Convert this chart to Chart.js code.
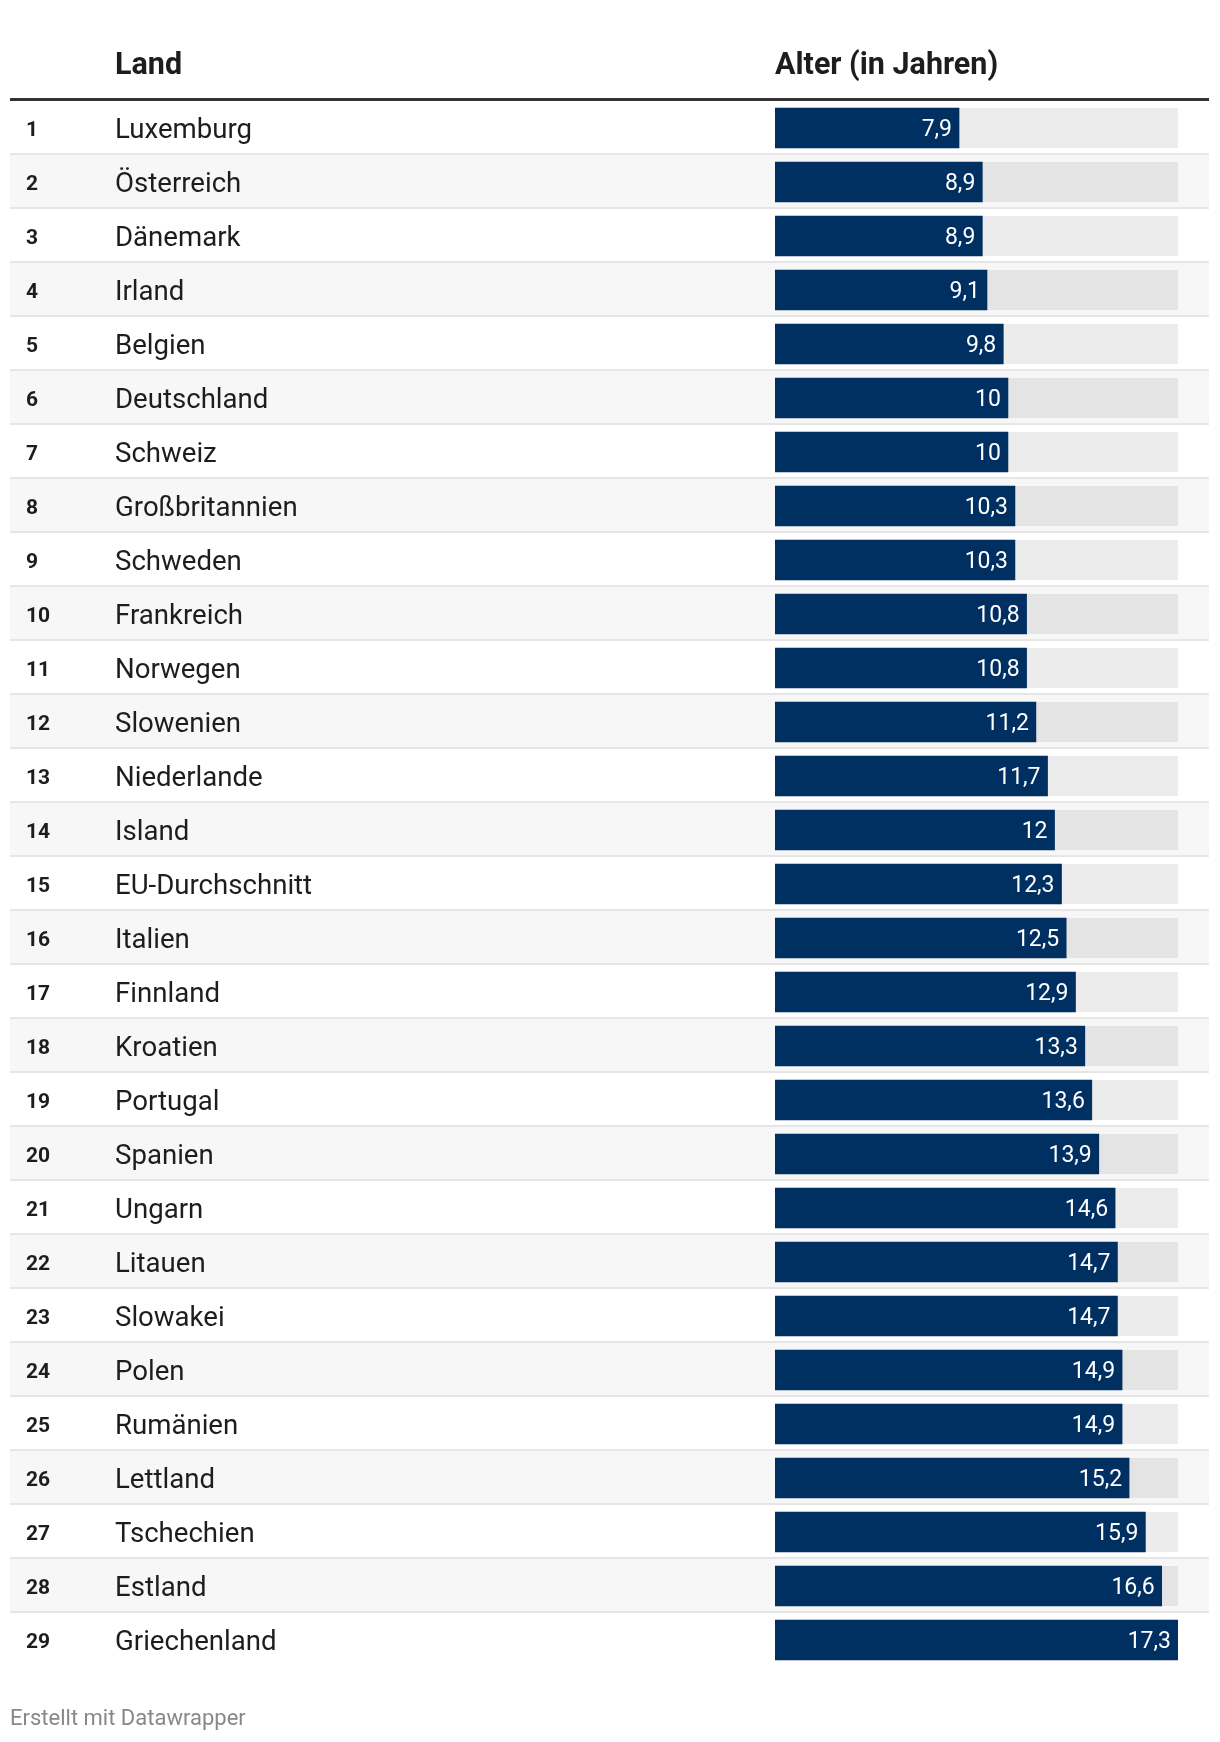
<!DOCTYPE html>
<html lang="de">
<head>
<meta charset="utf-8">
<script src="https://cdn.jsdelivr.net/npm/chart.js@4.4.0/dist/chart.umd.min.js"></script>
<style>
  html, body { margin: 0; padding: 0; background: #fff; }
  #wrap { position: relative; width: 1220px; height: 1742px; font-family: Roboto, "Noto Sans", sans-serif; }
  #alterChart { position: absolute; left: 0; top: 0; }
  .kopf { position: absolute; top: 48.5px; font-size: 30.5px; line-height: 30.5px; font-weight: 700; color: #1d1d1d; white-space: nowrap; }
  .fuss { position: absolute; left: 10px; top: 1706.5px; font-size: 22px; line-height: 22px; color: #888; white-space: nowrap; }
</style>
</head>
<body>
<div id="wrap">
  <canvas id="alterChart" width="1220" height="1742"></canvas>
  <div class="kopf" style="left:115px">Land</div>
  <div class="kopf" style="left:775px">Alter (in Jahren)</div>
  <div class="fuss">Erstellt mit Datawrapper</div>
</div>
<script>
// Daten
var raenge = [1, 2, 3, 4, 5, 6, 7, 8, 9, 10, 11, 12, 13, 14, 15, 16, 17, 18, 19, 20, 21, 22, 23, 24, 25, 26, 27, 28, 29];
var laender = ['Luxemburg', 'Österreich', 'Dänemark', 'Irland', 'Belgien', 'Deutschland', 'Schweiz',
    'Großbritannien', 'Schweden', 'Frankreich', 'Norwegen', 'Slowenien', 'Niederlande', 'Island',
    'EU-Durchschnitt', 'Italien', 'Finnland', 'Kroatien', 'Portugal', 'Spanien', 'Ungarn', 'Litauen',
    'Slowakei', 'Polen', 'Rumänien', 'Lettland', 'Tschechien', 'Estland', 'Griechenland'];
var alter = [7.9, 8.9, 8.9, 9.1, 9.8, 10, 10, 10.3, 10.3, 10.8, 10.8, 11.2, 11.7, 12, 12.3, 12.5,
    12.9, 13.3, 13.6, 13.9, 14.6, 14.7, 14.7, 14.9, 14.9, 15.2, 15.9, 16.6, 17.3];
var skalaMax = 17.3;

var FONT = 'Roboto, "Noto Sans", sans-serif';

function formatZahl(v) {
    return String(v).replace('.', ',');
}

// Zeilen, Streifen, Hintergrundbalken und Beschriftungen
var tabellePlugin = {
    id: 'tabelle',
    beforeDatasetsDraw: function (chart) {
        var ctx = chart.ctx;
        var yScale = chart.scales.y;
        var xScale = chart.scales.x;
        var halb = (yScale.getPixelForValue(1) - yScale.getPixelForValue(0)) / 2;

        ctx.save();
        // Kopflinie
        ctx.fillStyle = '#333';
        ctx.fillRect(10, 98, 1199, 3);

        laender.forEach(function (land, i) {
            var yc = yScale.getPixelForValue(i);
            var oben = yc - halb;
            var unten = yc + halb;

            if (i % 2 === 1) {
                ctx.fillStyle = '#f7f7f7';
                ctx.fillRect(10, oben, 1199, unten - oben);
            }
            if (i < laender.length - 1) {
                ctx.fillStyle = '#e6e6e6';
                ctx.fillRect(10, unten - 2, 1199, 2);
            }

            // grauer Hintergrundbalken
            ctx.fillStyle = 'rgba(0,0,0,0.075)';
            ctx.fillRect(xScale.getPixelForValue(0), yc - 20,
                xScale.getPixelForValue(skalaMax) - xScale.getPixelForValue(0), 40);

            ctx.fillStyle = '#1d1d1d';
            ctx.textAlign = 'left';
            ctx.textBaseline = 'alphabetic';
            ctx.font = '700 21px ' + FONT;
            ctx.fillText(String(raenge[i]), 26, yc + 7.5);
            ctx.font = '400 27.6px ' + FONT;
            ctx.fillText(land, 115, yc + 10);
        });
        ctx.restore();
    },
    afterDatasetsDraw: function (chart) {
        var ctx = chart.ctx;
        var meta = chart.getDatasetMeta(0);
        ctx.save();
        ctx.fillStyle = '#fff';
        ctx.font = '400 23px ' + FONT;
        ctx.textAlign = 'right';
        ctx.textBaseline = 'alphabetic';
        meta.data.forEach(function (bar, i) {
            ctx.fillText(formatZahl(alter[i]), bar.x - 7, bar.y + 8);
        });
        ctx.restore();
    }
};

var ctx = document.getElementById('alterChart').getContext('2d');
var chart = new Chart(ctx, {
    type: 'bar',
    data: {
        labels: laender,
        datasets: [{
            label: 'Alter (in Jahren)',
            data: alter,
            backgroundColor: '#002f62',
            borderWidth: 0,
            barThickness: 40
        }]
    },
    options: {
        indexAxis: 'y',
        responsive: false,
        animation: false,
        devicePixelRatio: 1,
        layout: { padding: { left: 775, right: 42, top: 101, bottom: 75 } },
        scales: {
            x: { min: 0, max: skalaMax, display: false },
            y: { display: false }
        },
        plugins: {
            legend: { display: false },
            tooltip: { enabled: false }
        }
    },
    plugins: [tabellePlugin]
});
</script>
</body>
</html>
